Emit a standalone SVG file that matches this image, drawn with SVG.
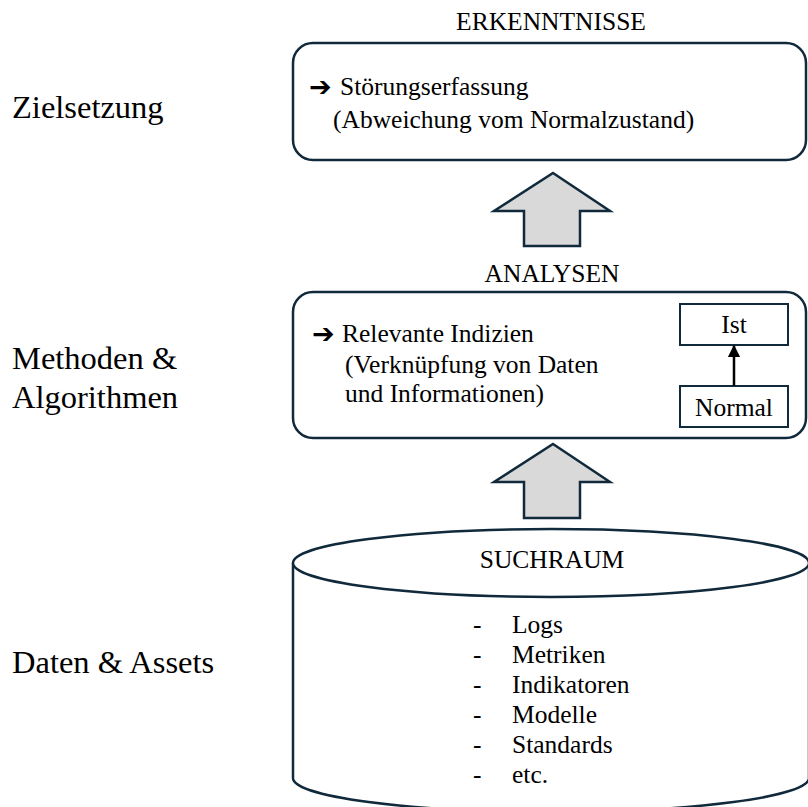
<svg xmlns="http://www.w3.org/2000/svg" width="808" height="807" viewBox="0 0 808 807">
<style>
  .t { font-family: "Liberation Serif", "Times New Roman", serif; fill: #000; }
  .lbl { font-size: 32.5px; }
  .body { font-size: 25.5px; }
  .box { fill: #fff; stroke: #10293b; stroke-width: 2.5; }
  .bigarrow { fill: #d9d9d9; stroke: #10293b; stroke-width: 2.5; stroke-linejoin: miter; }
  .small { fill: #fff; stroke: #10293b; stroke-width: 2; }
  .sym { font-family: "DejaVu Sans", sans-serif; font-size: 27px; font-weight: bold; }
</style>
<defs>
  <marker id="ah" viewBox="0 0 10 10" refX="9" refY="5" markerWidth="5" markerHeight="5" orient="auto">
    <path d="M0,0 L10,5 L0,10 z" fill="#000"/>
  </marker>
</defs>
<rect width="808" height="807" fill="#fff"/>

<g id="labels">
  <text class="t lbl" x="12" y="118">Zielsetzung</text>
  <text class="t lbl" x="12" y="369">Methoden &amp;</text>
  <text class="t lbl" x="12" y="408">Algorithmen</text>
  <text class="t lbl" x="12" y="673">Daten &amp; Assets</text>
</g>

<g id="erkenntnisse">
  <text class="t body" x="551" y="30" text-anchor="middle">ERKENNTNISSE</text>
  <rect class="box" x="293" y="43" width="513" height="117" rx="20"/>
  <text class="sym" x="309" y="96">➔</text>
  <text class="t body" x="340" y="95">Störungserfassung</text>
  <text class="t body" x="333" y="128">(Abweichung vom Normalzustand)</text>
</g>

<g id="analysen">
  <text class="t body" x="552" y="282" text-anchor="middle">ANALYSEN</text>
  <rect class="box" x="293" y="292" width="513" height="146" rx="20"/>
  <text class="sym" x="312" y="343">➔</text>
  <text class="t body" x="342" y="342">Relevante Indizien</text>
  <text class="t body" x="345" y="373">(Verknüpfung von Daten</text>
  <text class="t body" x="345" y="402">und Informationen)</text>
</g>

<g id="ist">
  <rect class="small" x="680" y="304" width="108" height="41"/>
  <text class="t body" x="734" y="333" text-anchor="middle">Ist</text>
</g>
<g id="normal">
  <rect class="small" x="680" y="386" width="108" height="41"/>
  <text class="t body" x="734" y="416" text-anchor="middle">Normal</text>
</g>

<g id="suchraum">
  <path class="box" d="M293,563 L293,778 A258,34 0 0 0 809,778 L809,563"/>
  <ellipse class="box" cx="551" cy="563" rx="258" ry="34"/>
  <text class="t body" x="552" y="568" text-anchor="middle">SUCHRAUM</text>
  <g class="t body">
    <text x="473" y="633">-</text><text x="512" y="633">Logs</text>
    <text x="473" y="663">-</text><text x="512" y="663">Metriken</text>
    <text x="473" y="693">-</text><text x="512" y="693">Indikatoren</text>
    <text x="473" y="723">-</text><text x="512" y="723">Modelle</text>
    <text x="473" y="753">-</text><text x="512" y="753">Standards</text>
    <text x="473" y="783">-</text><text x="512" y="783">etc.</text>
  </g>
</g>

<g id="connectors">
  <path class="bigarrow" d="M553,173 L610,211 L580,211 L580,246 L524,246 L524,211 L494,211 Z"/>
  <path class="bigarrow" d="M553,444 L610,482 L580,482 L580,518 L524,518 L524,482 L494,482 Z"/>
  <line x1="734" y1="386" x2="734" y2="346" stroke="#000" stroke-width="2.5" marker-end="url(#ah)"/>
</g>
</svg>
